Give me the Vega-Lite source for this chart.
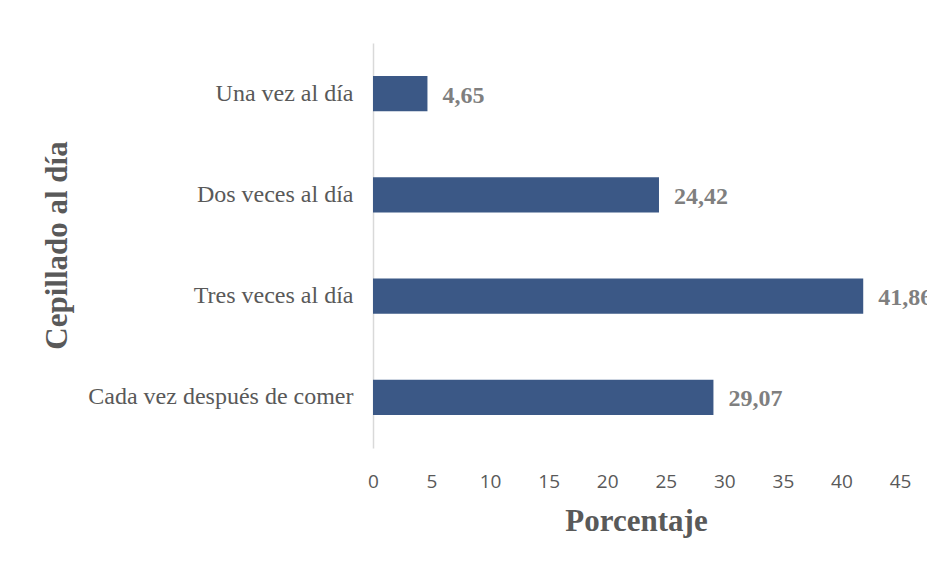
{
  "$schema": "https://vega.github.io/schema/vega-lite/v6.json",
  "width": 527,
  "height": 405,
  "autosize": "none",
  "padding": {"left": 373, "top": 43, "right": 27, "bottom": 115},
  "background": "white",
  "config": {"view": {"stroke": null}},
  "data": {
    "values": [
      {"cat": "Una vez al día", "pct": 4.65, "label": "4,65"},
      {"cat": "Dos veces al día", "pct": 24.42, "label": "24,42"},
      {"cat": "Tres veces al día", "pct": 41.86, "label": "41,86"},
      {"cat": "Cada vez después de comer", "pct": 29.07, "label": "29,07"}
    ]
  },
  "encoding": {
    "y": {
      "field": "cat",
      "type": "nominal",
      "sort": ["Una vez al día", "Dos veces al día", "Tres veces al día", "Cada vez después de comer"],
      "scale": {"paddingInner": 0.65, "paddingOuter": 0.325},
      "axis": {
        "title": "Cepillado al día",
        "titleFont": "Liberation Serif",
        "titleFontSize": 31,
        "titleFontWeight": "bold",
        "titleColor": "#595959",
        "titleAngle": -90,
        "titleBaseline": "alphabetic",
        "titleAlign": "center",
        "titleX": -307,
        "titleY": 202,
        "labelFont": "Liberation Serif",
        "labelFontSize": 24,
        "labelColor": "#595959",
        "labelPadding": 20,
        "labelLimit": 400,
        "ticks": false,
        "domainColor": "#d9d9d9",
        "domainWidth": 1.5,
        "grid": false
      }
    }
  },
  "layer": [
    {
      "mark": {"type": "bar", "color": "#3b5886"},
      "encoding": {
        "x": {
          "field": "pct",
          "type": "quantitative",
          "scale": {"domain": [0, 45], "nice": false},
          "axis": {
            "title": "Porcentaje",
            "titleFont": "Liberation Serif",
            "titleFontSize": 31,
            "titleFontWeight": "bold",
            "titleColor": "#595959",
            "titleBaseline": "alphabetic",
            "titleX": 263,
            "titleY": 82,
            "values": [0, 5, 10, 15, 20, 25, 30, 35, 40, 45],
            "labelFont": "Open Sans",
            "labelFontSize": 19,
            "labelColor": "#595959",
            "labelBaseline": "top",
            "labelPadding": 24,
            "labelFlush": false,
            "labelOverlap": false,
            "domain": false,
            "ticks": false,
            "grid": false
          }
        }
      }
    },
    {
      "mark": {
        "type": "text",
        "align": "left",
        "baseline": "middle",
        "dx": 15,
        "dy": 2,
        "font": "Liberation Serif",
        "fontSize": 24,
        "fontWeight": "bold",
        "color": "#7f7f7f"
      },
      "encoding": {
        "x": {"field": "pct", "type": "quantitative"},
        "text": {"field": "label"}
      }
    }
  ]
}
